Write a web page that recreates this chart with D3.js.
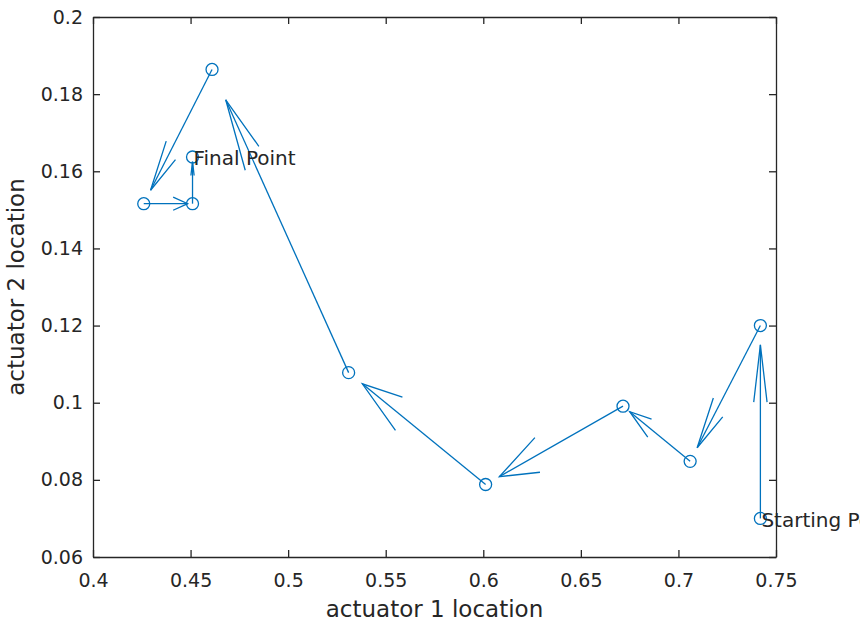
<!DOCTYPE html>
<html>
<head>
<meta charset="utf-8">
<script src="https://cdn.jsdelivr.net/npm/d3@7"></script>
<style>
  body { margin: 0; background: #fff; }
  svg { display: block; }
  text { font-family: "DejaVu Sans", sans-serif; fill: #262626; }
</style>
</head>
<body>
<svg id="chart" width="865" height="630"></svg>
<script>
// Actuator positions visited by the search, in order
const act1 = [0.742, 0.742, 0.706, 0.6716, 0.6012, 0.531, 0.461, 0.426, 0.451, 0.451];
const act2 = [0.070, 0.120, 0.0848, 0.0991, 0.0788, 0.1078, 0.1864, 0.1516, 0.1516, 0.1637];

const xTicks = [0.4, 0.45, 0.5, 0.55, 0.6, 0.65, 0.7, 0.75];
const xTickLabels = ["0.4", "0.45", "0.5", "0.55", "0.6", "0.65", "0.7", "0.75"];
const yTicks = [0.06, 0.08, 0.1, 0.12, 0.14, 0.16, 0.18, 0.2];
const yTickLabels = ["0.06", "0.08", "0.1", "0.12", "0.14", "0.16", "0.18", "0.2"];

const noteIndex = [0, 9];
const noteText = ["Starting Point", "Final Point"];

const xLabel = "actuator 1 location";
const yLabel = "actuator 2 location";

// quiver settings: arrows drawn at 0.9 of each step; heads are a fixed fraction
// of the arrow, capped at a maximum length (all in data units)
const arrowScale = 0.9;
const headAlpha = 0.33;
const headBeta = 0.23;
const headMax = 0.0203;

const blue = "#0072BD";
const axisColor = "#262626";

const svg = d3.select("#chart");
const plotL = 93, plotR = 776, plotT = 17, plotB = 557;

// figure area ends a little before the page edge; text beyond it is cut
svg.append("defs").append("clipPath").attr("id", "figClip")
  .append("rect").attr("x", 0).attr("y", 0).attr("width", 860).attr("height", 630);

const x = d3.scaleLinear().domain([0.4, 0.75]).range([plotL, plotR]);
const y = d3.scaleLinear().domain([0.06, 0.2]).range([plotB, plotT]);

const fmtX = d => xTickLabels[xTicks.indexOf(d)];
const fmtY = d => yTickLabels[yTicks.indexOf(d)];

function styleAxis(g) {
  g.select(".domain").attr("stroke", axisColor).attr("stroke-width", 1.3);
  g.selectAll(".tick line").attr("stroke", axisColor).attr("stroke-width", 1.3);
  g.selectAll(".tick text").attr("fill", axisColor).style("font-size", "19px")
    .style("font-family", "'DejaVu Sans', sans-serif");
}

svg.append("g").attr("transform", `translate(0,${plotB})`)
  .call(d3.axisBottom(x).tickValues(xTicks).tickFormat(fmtX).tickSizeInner(-7).tickSizeOuter(0).tickPadding(17))
  .call(styleAxis);
svg.append("g").attr("transform", `translate(0,${plotT})`)
  .call(d3.axisTop(x).tickValues(xTicks).tickFormat("").tickSizeInner(-7).tickSizeOuter(0))
  .call(styleAxis);
svg.append("g").attr("transform", `translate(${plotL},0)`)
  .call(d3.axisLeft(y).tickValues(yTicks).tickFormat(fmtY).tickSizeInner(-7).tickSizeOuter(0).tickPadding(10))
  .call(styleAxis);
svg.append("g").attr("transform", `translate(${plotR},0)`)
  .call(d3.axisRight(y).tickValues(yTicks).tickFormat("").tickSizeInner(-7).tickSizeOuter(0))
  .call(styleAxis);

// axis titles
svg.append("text")
  .attr("x", (plotL + plotR) / 2).attr("y", 617)
  .attr("text-anchor", "middle").style("font-size", "23px")
  .text(xLabel);
svg.append("text")
  .attr("transform", `translate(24,${(plotT + plotB) / 2}) rotate(-90)`)
  .attr("text-anchor", "middle").style("font-size", "23px")
  .text(yLabel);

// quiver arrows between consecutive points
const plot = svg.append("g").attr("clip-path", "url(#figClip)");
const line = d3.line();
for (let i = 0; i < act1.length - 1; i++) {
  const x0 = act1[i], y0 = act2[i];
  const u = arrowScale * (act1[i + 1] - x0);
  const v = arrowScale * (act2[i + 1] - y0);
  const tip = [x0 + u, y0 + v];
  const a = Math.min(headAlpha, headMax / Math.hypot(u, v));
  plot.append("path")
    .attr("d", line([[x(x0), y(y0)], [x(tip[0]), y(tip[1])]]))
    .attr("fill", "none").attr("stroke", blue).attr("stroke-width", 1.3);
  const h1 = [tip[0] - a * (u + headBeta * v), tip[1] - a * (v - headBeta * u)];
  const h2 = [tip[0] - a * (u - headBeta * v), tip[1] - a * (v + headBeta * u)];
  plot.append("path")
    .attr("d", line([h1, tip, h2].map(p => [x(p[0]), y(p[1])])))
    .attr("fill", "none").attr("stroke", blue).attr("stroke-width", 1.3);
}

// circle markers
plot.selectAll("circle").data(act1.map((d, i) => [d, act2[i]])).join("circle")
  .attr("cx", d => x(d[0])).attr("cy", d => y(d[1])).attr("r", 6)
  .attr("fill", "none").attr("stroke", blue).attr("stroke-width", 1.3);

// start / end annotations
plot.selectAll("text.note").data(noteIndex).join("text")
  .attr("class", "note")
  .attr("x", i => x(act1[i]) + 1).attr("y", i => y(act2[i]))
  .attr("dy", "0.42em").style("font-size", "20px").attr("fill", axisColor)
  .text((i, k) => noteText[k]);
</script>
</body>
</html>
